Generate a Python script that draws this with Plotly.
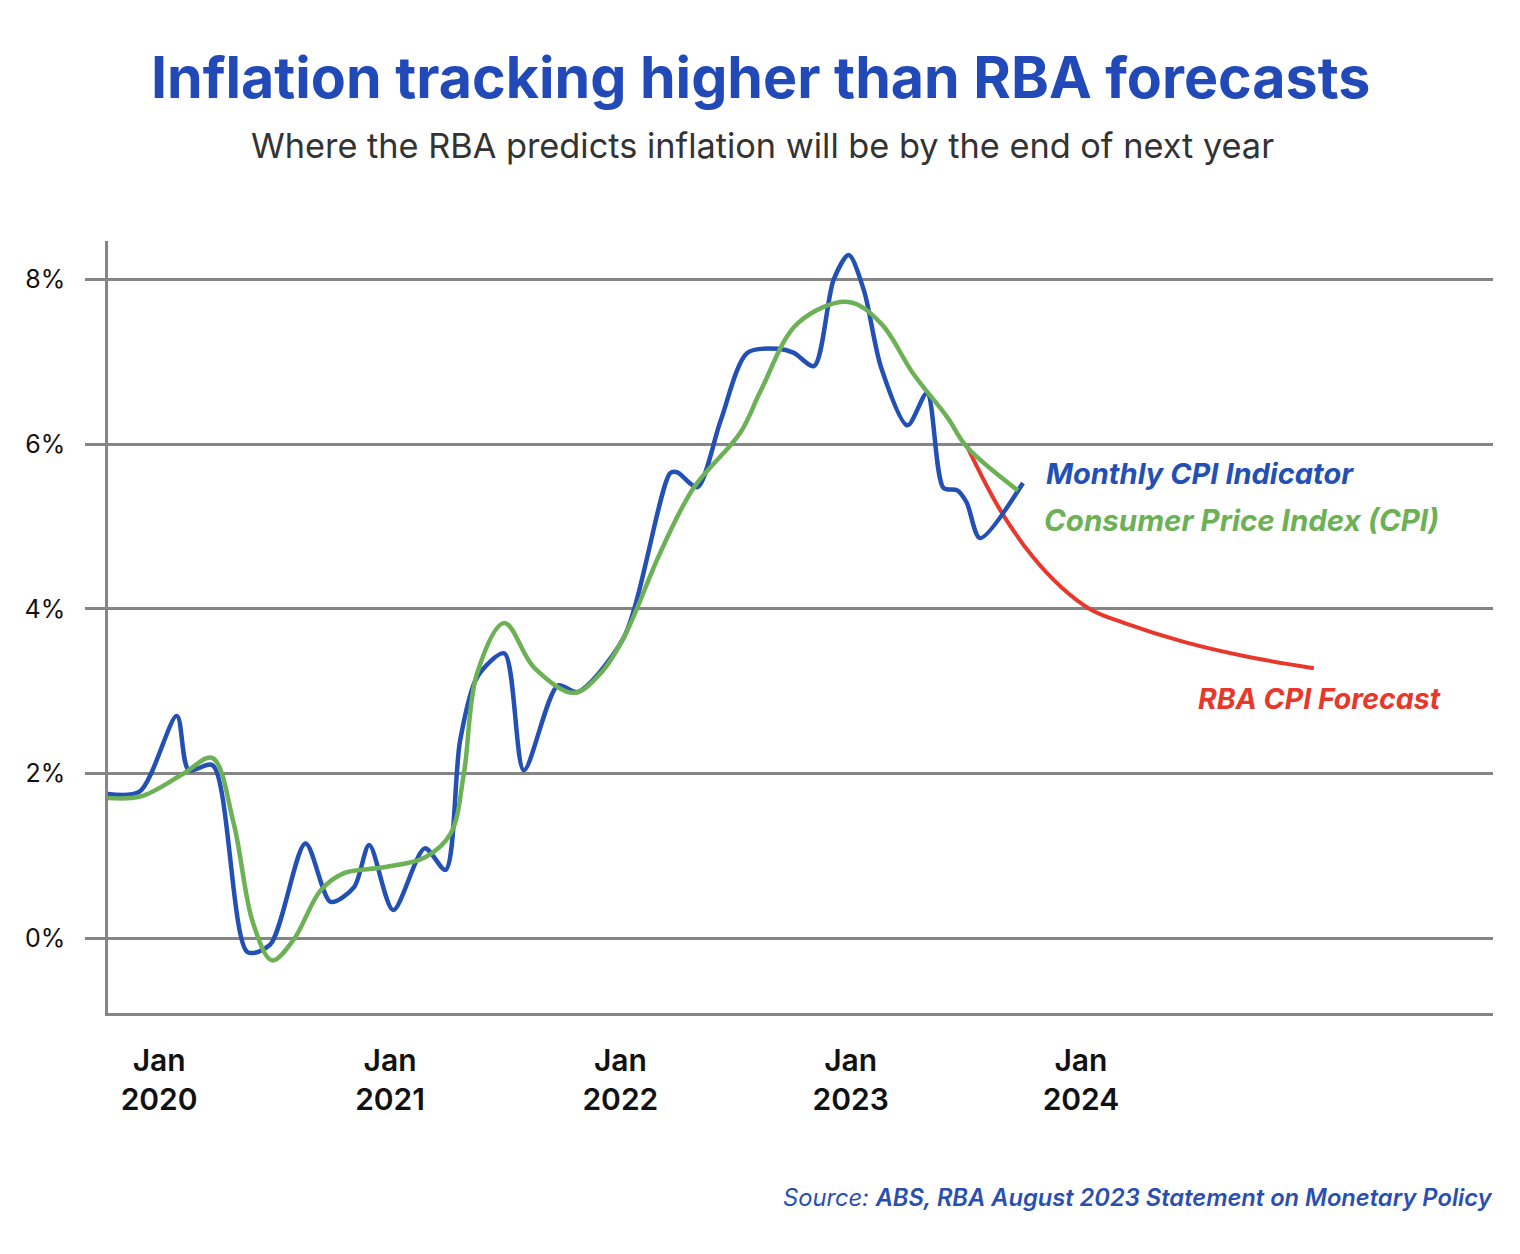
import plotly.graph_objects as go

# ---------------- data ----------------
monthly_dates = ["2019-10-01", "2019-12-01", "2020-01-29", "2020-02-17", "2020-03-26",
                 "2020-05-20", "2020-06-25", "2020-08-20", "2020-09-29", "2020-11-05",
                 "2020-11-29", "2021-01-06", "2021-02-25", "2021-03-30", "2021-04-22",
                 "2021-05-19", "2021-07-01", "2021-08-01", "2021-09-24", "2021-10-25",
                 "2022-01-07", "2022-03-21", "2022-04-01", "2022-05-03", "2022-06-09",
                 "2022-07-21", "2022-09-08", "2022-10-03", "2022-11-04", "2022-12-05",
                 "2022-12-29", "2023-01-22", "2023-02-18", "2023-04-01", "2023-05-02",
                 "2023-05-28", "2023-06-19", "2023-07-04", "2023-07-25", "2023-10-01"]
monthly_cpi = [1.76, 1.78, 2.70, 2.04, 2.10,
               -0.17, -0.08, 1.15, 0.44, 0.62,
               1.13, 0.34, 1.09, 0.83, 2.40,
               3.17, 3.46, 2.04, 3.07, 2.99,
               3.66, 5.65, 5.66, 5.48, 6.29,
               7.11, 7.16, 7.11, 6.95, 8.00,
               8.30, 7.87, 6.94, 6.23, 6.62,
               5.47, 5.44, 5.29, 4.86, 5.53]

cpi_dates = ["2019-10-01", "2019-12-02", "2020-02-09", "2020-03-25", "2020-04-28",
             "2020-05-29", "2020-06-28", "2020-08-01", "2020-09-13", "2020-10-20",
             "2020-12-22", "2021-02-25", "2021-04-07", "2021-04-28", "2021-05-19",
             "2021-07-01", "2021-08-17", "2021-10-19", "2021-12-01", "2022-01-07",
             "2022-03-05", "2022-04-27", "2022-07-10", "2022-08-12", "2022-10-09",
             "2022-12-28", "2023-02-18", "2023-04-10", "2023-06-03", "2023-07-04",
             "2023-09-23"]
cpi = [1.71, 1.72, 2.00, 2.19, 1.40,
       0.18, -0.27, -0.02, 0.58, 0.79,
       0.86, 0.98, 1.27, 2.00, 3.22,
       3.83, 3.29, 2.98, 3.22, 3.66,
       4.68, 5.47, 6.14, 6.66, 7.47,
       7.73, 7.47, 6.86, 6.33, 5.97,
       5.44]

forecast_dates = ["2023-07-04", "2023-08-26", "2023-10-17", "2023-11-30", "2024-01-17",
                  "2024-03-09", "2024-06-12", "2024-09-27", "2025-01-04"]
forecast = [5.98, 5.20, 4.63, 4.27, 3.99, 3.83, 3.60, 3.41, 3.28]

x_tick_vals = ["2020-01-01", "2021-01-01", "2022-01-01", "2023-01-01", "2024-01-01"]
x_tick_text = ["Jan<br>2020", "Jan<br>2021", "Jan<br>2022", "Jan<br>2023", "Jan<br>2024"]
y_tick_vals = [0, 2, 4, 6, 8]
y_tick_text = ["0%", "2%", "4%", "6%", "8%"]

BLUE = "#2350b5"
GREEN = "#6cb155"
RED = "#e8372b"
GRID = "#858585"
FONT = "Inter"

fig = go.Figure()
fig.add_trace(go.Scatter(x=forecast_dates, y=forecast, mode="lines",
                         line=dict(color=RED, width=4, shape="spline", smoothing=1.0),
                         hoverinfo="skip", showlegend=False))
fig.add_trace(go.Scatter(x=monthly_dates, y=monthly_cpi, mode="lines",
                         line=dict(color=BLUE, width=4.5, shape="spline", smoothing=0.8),
                         showlegend=False))
fig.add_trace(go.Scatter(x=cpi_dates, y=cpi, mode="lines",
                         line=dict(color=GREEN, width=4.5, shape="spline", smoothing=1.0),
                         showlegend=False))

# page body has an 8px default margin, so the figure is 8px smaller and offset
fig.update_layout(
    width=1504, height=1238,
    margin=dict(l=100, r=19, t=233, b=233),
    paper_bgcolor="white", plot_bgcolor="white",
    font=dict(family=FONT, color="#111"),
    showlegend=False,
)
fig.update_xaxes(
    type="date", range=["2019-10-12", "2025-10-15"],
    tickvals=x_tick_vals, ticktext=x_tick_text,
    showgrid=False, zeroline=False,
    showline=True, linecolor=GRID, linewidth=2.5,
    ticks="", ticklabelstandoff=19,
    tickfont=dict(family=FONT, size=30, color="#111", weight=600),
)
fig.update_yaxes(
    range=[-0.91, 8.47],
    tickvals=y_tick_vals, ticktext=y_tick_text,
    showgrid=True, gridcolor=GRID, gridwidth=2.5,
    zeroline=False,
    showline=True, linecolor=GRID, linewidth=2.5,
    ticks="outside", ticklen=20, tickcolor=GRID, tickwidth=2.5,
    ticklabelstandoff=15,
    tickfont=dict(family=FONT, size=25, color="#111"),
)

def px_x(x):
    return (x - 108) / 1385

def px_y(y):
    return (1013 - y) / 772

annots = [
    dict(text="Inflation tracking higher than RBA forecasts", x=px_x(760), y=px_y(77),
         xanchor="center", yanchor="middle",
         font=dict(family=FONT, size=57.3, color="#2149b8", weight=700)),
    dict(text="Where the RBA predicts inflation will be by the end of next year",
         x=px_x(762), y=px_y(145), xanchor="center", yanchor="middle",
         font=dict(family=FONT, size=34.3, color="#333333", weight=400)),
    dict(text="<i>Source: </i><i><span style='font-weight:600'>ABS, RBA August 2023 Statement on Monetary Policy</span></i>",
         x=px_x(1495), y=px_y(1197), xanchor="right", yanchor="middle",
         font=dict(family=FONT, size=23.7, color="#2a4fb0")),
    dict(text="<b><i>Monthly CPI Indicator</i></b>", x=px_x(1044), y=px_y(473),
         xanchor="left", yanchor="middle",
         font=dict(family=FONT, size=29, color=BLUE)),
    dict(text="<b><i>Consumer Price Index (CPI)</i></b>", x=px_x(1042), y=px_y(520),
         xanchor="left", yanchor="middle",
         font=dict(family=FONT, size=29.5, color=GREEN)),
    dict(text="<b><i>RBA CPI Forecast</i></b>", x=px_x(1443), y=px_y(698),
         xanchor="right", yanchor="middle",
         font=dict(family=FONT, size=28.5, color=RED)),
]
for a in annots:
    fig.add_annotation(xref="paper", yref="paper", showarrow=False, **a)

fig.write_html("out.html")
